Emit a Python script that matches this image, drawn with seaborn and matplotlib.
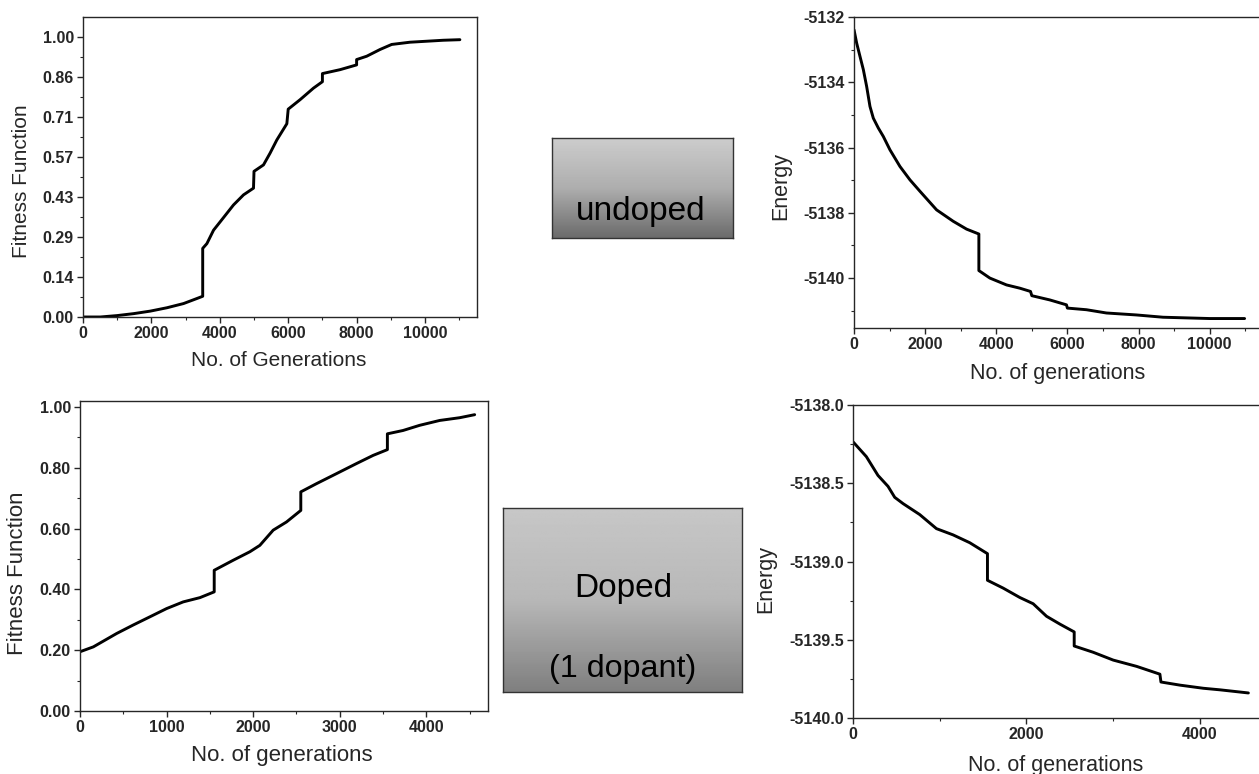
import numpy as np
import pandas as pd
import matplotlib
matplotlib.use("Agg")
import matplotlib.pyplot as plt
import matplotlib.transforms as mtransforms
from matplotlib import font_manager as fm
from matplotlib.ticker import MultipleLocator, FixedLocator
import seaborn as sns

# ---------------- data ----------------
# Undoped fitness function vs generations
fit_u_x = [0, 506, 993, 1480, 1967, 2454, 2940, 3330, 3500, 3500, 3622, 3817, 4012, 4400, 4693,
           4985, 5000, 5277, 5470, 5667, 5960, 6000, 6349, 6738, 7000, 7000, 7517, 8000, 8000,
           8296, 8685, 9025, 9560, 10535, 11020]
fit_u_y = [0.0, 0.0, 0.005, 0.012, 0.021, 0.033, 0.048, 0.066, 0.074, 0.245, 0.262, 0.31, 0.34,
           0.40, 0.436, 0.46, 0.52, 0.543, 0.585, 0.632, 0.690, 0.742, 0.776, 0.817, 0.840, 0.869,
           0.883, 0.900, 0.919, 0.931, 0.955, 0.973, 0.981, 0.988, 0.990]

# Undoped energy vs generations
en_u_x = [0, 75, 169, 262, 356, 449, 543, 683, 824, 1011, 1292, 1573, 1854, 2322, 2790, 3165,
          3511, 3511, 3820, 4288, 4663, 4963, 5000, 5506, 5974, 6000, 6536, 7097, 7940, 8689,
          10000, 10983]
en_u_y = [-5132.39, -5132.80, -5133.21, -5133.61, -5134.13, -5134.74, -5135.10, -5135.40,
          -5135.66, -5136.07, -5136.58, -5136.99, -5137.34, -5137.91, -5138.26, -5138.50,
          -5138.65, -5139.77, -5140.0, -5140.21, -5140.31, -5140.41, -5140.54, -5140.67,
          -5140.82, -5140.92, -5140.97, -5141.07, -5141.13, -5141.20, -5141.24, -5141.24]

# Doped fitness function vs generations
fit_d_x = [0, 154, 423, 615, 808, 1000, 1192, 1385, 1550, 1550, 1769, 1962, 2077, 2231, 2385,
           2550, 2550, 2731, 2962, 3192, 3385, 3550, 3550, 3731, 3923, 4154, 4385, 4558]
fit_d_y = [0.195, 0.211, 0.255, 0.283, 0.310, 0.337, 0.359, 0.373, 0.392, 0.463, 0.496, 0.524,
           0.545, 0.595, 0.622, 0.660, 0.721, 0.748, 0.781, 0.814, 0.841, 0.860, 0.912, 0.923,
           0.940, 0.956, 0.965, 0.975]

# Doped energy vs generations
en_d_x = [0, 154, 288, 404, 481, 577, 769, 962, 1154, 1346, 1550, 1550, 1731, 1923, 2077, 2231,
          2385, 2550, 2550, 2769, 3000, 3269, 3538, 3550, 3769, 4038, 4231, 4558]
en_d_y = [-5138.235, -5138.33, -5138.45, -5138.52, -5138.59, -5138.63, -5138.70, -5138.79,
          -5138.83, -5138.88, -5138.95, -5139.12, -5139.17, -5139.23, -5139.27, -5139.35,
          -5139.40, -5139.45, -5139.54, -5139.58, -5139.63, -5139.67, -5139.72, -5139.77,
          -5139.79, -5139.81, -5139.82, -5139.84]

fit_u_ticks = [0.0, 1/7, 2/7, 3/7, 4/7, 5/7, 6/7, 1.0]
fit_u_ticklabels = ["0.00", "0.14", "0.29", "0.43", "0.57", "0.71", "0.86", "1.00"]
fit_d_ticklabels = ["0.00", "0.20", "0.40", "0.60", "0.80", "1.00"]
en_u_ticklabels = ["-5140", "-5138", "-5136", "-5134", "-5132"]
en_d_ticklabels = ["-5140.0", "-5139.5", "-5139.0", "-5138.5", "-5138.0"]

label_undoped = "undoped"
label_doped = ["Doped", "(1 dopant)"]

# ---------------- style ----------------
sns.set_style("ticks")
plt.rcParams["font.family"] = ["Liberation Sans", "DejaVu Sans"]
plt.rcParams["axes.linewidth"] = 1.0

W, H = 1259, 774
fig = plt.figure(figsize=(W / 100, H / 100), dpi=100)
# transform from figure pixel coords (origin top-left) to display
pix = mtransforms.Affine2D().scale(1 / W, -1 / H).translate(0, 1) + fig.transFigure

def px_axes(left, top, right, bottom):
    return fig.add_axes([left / W, 1 - bottom / H, (right - left) / W, (bottom - top) / H])

line_kw = dict(color="black", linewidth=2.1, estimator=None, sort=False)
tick_fs = 11.5

def style(ax, xlabel, ylabel, xl_pos, yl_pos, lab_fs):
    ax.tick_params(axis="both", which="major", direction="out", length=4, width=1,
                   labelsize=tick_fs, pad=2.5)
    ax.tick_params(axis="both", which="minor", direction="out", length=2.5, width=0.8)
    for t in ax.get_xticklabels() + ax.get_yticklabels():
        t.set_fontweight("bold")
    ax.set_xlabel(xlabel, fontsize=lab_fs)
    ax.set_ylabel(ylabel, fontsize=lab_fs)
    ax.xaxis.set_label_coords(xl_pos[0], xl_pos[1], transform=pix)
    ax.yaxis.set_label_coords(yl_pos[0], yl_pos[1], transform=pix)
    ax.xaxis.label.set_va("center")
    ax.yaxis.label.set_va("center")

# Top-left: undoped fitness
ax1 = px_axes(83, 17, 477, 317)
sns.lineplot(data=pd.DataFrame({"x": fit_u_x, "y": fit_u_y}), x="x", y="y", ax=ax1, **line_kw)
ax1.set_xlim(0, 11520)
ax1.set_ylim(0, 1.071)
ax1.set_xticks([0, 2000, 4000, 6000, 8000, 10000])
ax1.xaxis.set_minor_locator(MultipleLocator(1000))
ax1.set_yticks(fit_u_ticks)
ax1.set_yticklabels(fit_u_ticklabels)
ax1.yaxis.set_minor_locator(FixedLocator([(2 * k + 1) / 14 for k in range(7)]))
style(ax1, "No. of Generations", "Fitness Function", (279, 360), (22, 181), 15)

# Top-right: undoped energy
ax2 = px_axes(854, 17, 1263, 328)
sns.lineplot(data=pd.DataFrame({"x": en_u_x, "y": en_u_y}), x="x", y="y", ax=ax2, **line_kw)
ax2.set_xlim(0, 11500)
ax2.set_ylim(-5141.53, -5132)
ax2.set_xticks([0, 2000, 4000, 6000, 8000, 10000])
ax2.xaxis.set_minor_locator(MultipleLocator(1000))
ax2.set_yticks([-5140, -5138, -5136, -5134, -5132])
ax2.set_yticklabels(en_u_ticklabels)
ax2.yaxis.set_minor_locator(MultipleLocator(1))
style(ax2, "No. of generations", "Energy", (1058, 374), (781, 186), 15.5)

# Bottom-left: doped fitness
ax3 = px_axes(80, 401, 488, 711)
sns.lineplot(data=pd.DataFrame({"x": fit_d_x, "y": fit_d_y}), x="x", y="y", ax=ax3, **line_kw)
ax3.set_xlim(0, 4712)
ax3.set_ylim(0, 1.02)
ax3.set_xticks([0, 1000, 2000, 3000, 4000])
ax3.xaxis.set_minor_locator(MultipleLocator(500))
ax3.set_yticks([0.0, 0.2, 0.4, 0.6, 0.8, 1.0])
ax3.set_yticklabels(fit_d_ticklabels)
ax3.yaxis.set_minor_locator(MultipleLocator(0.1))
style(ax3, "No. of generations", "Fitness Function", (282, 756), (18, 573), 16)

# Bottom-right: doped energy
ax4 = px_axes(853, 405, 1262, 718)
sns.lineplot(data=pd.DataFrame({"x": en_d_x, "y": en_d_y}), x="x", y="y", ax=ax4, **line_kw)
ax4.set_xlim(0, 4715)
ax4.set_ylim(-5140, -5138)
ax4.set_xticks([0, 2000, 4000])
ax4.xaxis.set_minor_locator(MultipleLocator(1000))
ax4.set_yticks([-5140.0, -5139.5, -5139.0, -5138.5, -5138.0])
ax4.set_yticklabels(en_d_ticklabels)
ax4.yaxis.set_minor_locator(MultipleLocator(0.25))
style(ax4, "No. of generations", "Energy", (1056, 765), (766, 579), 15.5)

# Label boxes with gray gradient background
names = {f.name for f in fm.fontManager.ttflist}
if "Liberation Sans Narrow" in names:
    box_family = ["Liberation Sans Narrow", "Liberation Sans"]
    box_scale = 1.0
else:
    box_family = ["Liberation Sans", "DejaVu Sans"]
    box_scale = 0.83

def label_box(left, top, right, bottom, top_gray, mid_gray, bot_gray):
    bx = px_axes(left, top, right, bottom)
    n = 100
    t = np.linspace(0, 1, n)
    vals = np.where(t < 0.5, top_gray + (mid_gray - top_gray) * t / 0.5,
                    mid_gray + (bot_gray - mid_gray) * (t - 0.5) / 0.5)
    grad = np.tile(vals[:, None], (1, 10))
    bx.imshow(grad, cmap="gray", vmin=0, vmax=1, aspect="auto",
              extent=[0, 1, 0, 1], origin="upper")
    bx.set_xlim(0, 1)
    bx.set_ylim(0, 1)
    bx.set_xticks([])
    bx.set_yticks([])
    for s in bx.spines.values():
        s.set_linewidth(1.0)
        s.set_color("#333333")
    return bx

b1 = label_box(552, 138, 733, 238, 0.80, 0.68, 0.42)
fig.text(641, 220, label_undoped, ha="center", va="baseline", fontsize=29 * box_scale,
         color="black", family=box_family, transform=pix)

b2 = label_box(503, 508, 742, 692, 0.78, 0.72, 0.50)
fig.text(623, 597, label_doped[0], ha="center", va="baseline", fontsize=29 * box_scale,
         color="black", family=box_family, transform=pix)
fig.text(623, 677, label_doped[1], ha="center", va="baseline", fontsize=28 * box_scale,
         color="black", family=box_family, transform=pix)

fig.savefig("out.png", dpi=100)
